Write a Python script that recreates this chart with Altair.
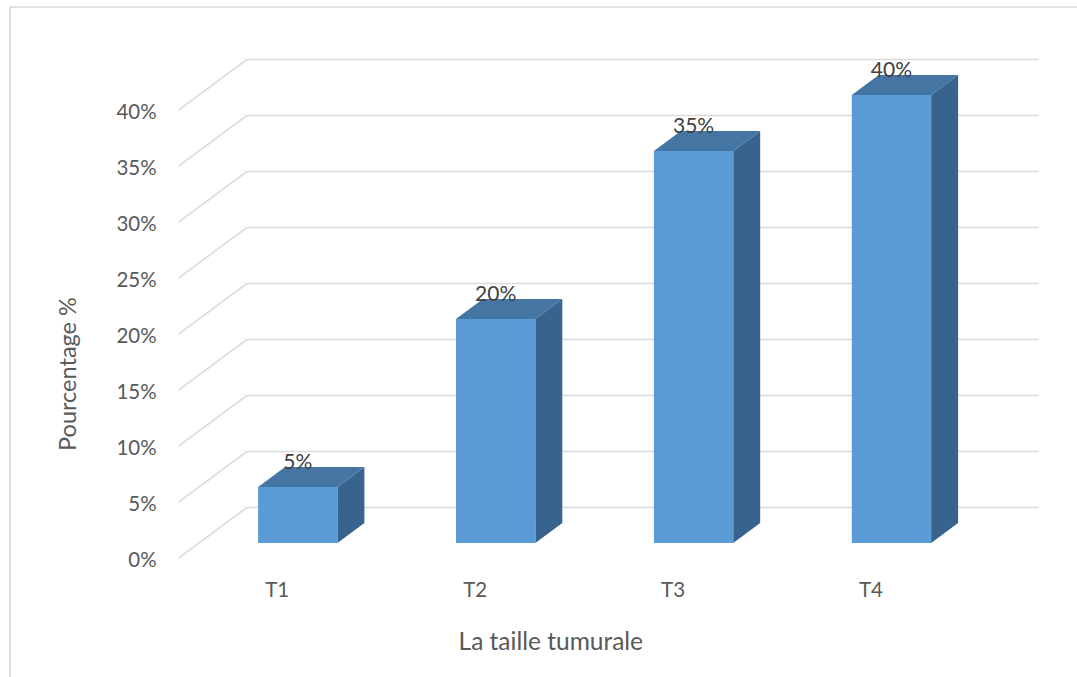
import altair as alt
import pandas as pd

# ---- data ----
categories = ["T1", "T2", "T3", "T4"]
values = [5, 20, 35, 40]
value_labels = ["5%", "20%", "35%", "40%"]
y_ticks = [0, 5, 10, 15, 20, 25, 30, 35, 40]
y_tick_labels = ["0%", "5%", "10%", "15%", "20%", "25%", "30%", "35%", "40%"]
x_title = "La taille tumurale"
y_title = "Pourcentage %"

# ---- layout (pixels) ----
W, H = 1067, 670          # frame size inside the padding
PX_U = 197.9              # pixels per category step
PX_P = 11.2               # pixels per percent
X0 = 168.3                # left edge of the category band on the front plane
Y0 = 551.3                # 0% on the front plane
DEPTH_X = 0.3456          # oblique depth, in category units
DEPTH_Y = 4.527           # oblique depth, in percent units
BAR_W = 0.401             # bar width, in category units
BAR_Z0 = 0.30             # bar front position along the depth (0..1)
BAR_ZD = 0.394            # bar depth (0..1)

FONT = "Lato"
GRID = "#D9D9D9"
FRONT = "#5B9BD5"
TOP = "#4575A3"
SIDE = "#38638D"

x_scale = alt.Scale(domain=[-0.5 - X0 / PX_U, -0.5 + (W - X0) / PX_U], nice=False, zero=False)
y_scale = alt.Scale(domain=[(Y0 - H) / PX_P, Y0 / PX_P], nice=False, zero=False)


def X(field):
    return alt.X(field, type="quantitative", scale=x_scale, axis=None)


def Y(field):
    return alt.Y(field, type="quantitative", scale=y_scale, axis=None)


# ---- bar geometry built from the values ----
sx0, sy0 = BAR_Z0 * DEPTH_X, BAR_Z0 * DEPTH_Y
sxd, syd = BAR_ZD * DEPTH_X, BAR_ZD * DEPTH_Y

front_rows, side_rows, top_rows, label_rows = [], [], [], []
for i, (cat, v, lab) in enumerate(zip(categories, values, value_labels)):
    xl = i - BAR_W / 2 + sx0
    xr = i + BAR_W / 2 + sx0
    yb = sy0
    yt = v + sy0
    front_rows.append({"cat": cat, "xl": xl, "xr": xr, "yb": yb, "yt": yt})
    side_rows += [
        {"cat": cat, "x": xr, "y": yb, "y2": yt},
        {"cat": cat, "x": xr + sxd, "y": yb + syd, "y2": yt + syd},
    ]
    top_rows += [
        {"cat": cat, "y": yt, "x": xl, "x2": xr},
        {"cat": cat, "y": yt + syd, "x": xl + sxd, "x2": xr + sxd},
    ]
    label_rows.append({"cat": cat, "x": i + sx0, "y": yt, "label": lab})

front_df = pd.DataFrame(front_rows)
side_df = pd.DataFrame(side_rows)
top_df = pd.DataFrame(top_rows)
label_df = pd.DataFrame(label_rows)

# ---- walls: back-wall lines and left-wall diagonals ----
grid_df = pd.DataFrame({"t": y_ticks, "label": y_tick_labels})
grid_df["xa"] = -0.5
grid_df["xb"] = -0.5 + DEPTH_X
grid_df["xc"] = len(categories) - 0.5 + DEPTH_X
grid_df["yb"] = grid_df["t"] + DEPTH_Y

back_lines = alt.Chart(grid_df).mark_rule(color=GRID, strokeWidth=1.5).encode(
    x=X("xb"), x2="xc", y=Y("yb"), y2="yb"
)
side_lines = alt.Chart(grid_df).mark_rule(color=GRID, strokeWidth=1.5).encode(
    x=X("xa"), x2="xb", y=Y("t"), y2="yb"
)
tick_text = alt.Chart(grid_df).mark_text(
    align="right", baseline="alphabetic", dx=-21.6, dy=9, font=FONT, fontSize=20.5, color="#595959"
).encode(x=X("xa"), y=Y("t"), text="label:N")

cat_df = pd.DataFrame({"cat": categories, "i": list(range(len(categories))), "zero": 0})
cat_text = alt.Chart(cat_df).mark_text(
    align="center", baseline="alphabetic", dy=38.4, font=FONT, fontSize=20.5, color="#595959"
).encode(x=X("i"), y=Y("zero"), text="cat:N")

# ---- bars ----
side_faces = alt.Chart(side_df).mark_area(orient="vertical", color=SIDE).encode(
    x=X("x"), y=Y("y"), y2="y2", detail="cat:N"
)
top_faces = alt.Chart(top_df).mark_area(orient="horizontal", color=TOP).encode(
    y=Y("y"), x=X("x"), x2="x2", detail="cat:N"
)
front_faces = alt.Chart(front_df).mark_rect(color=FRONT).encode(
    x=X("xl"), x2="xr", y=Y("yb"), y2="yt"
)
value_text = alt.Chart(label_df).mark_text(
    align="center", baseline="alphabetic", dy=-18, font=FONT, fontSize=21, color="#404040"
).encode(x=X("x"), y=Y("y"), text="label:N")

# ---- titles and frame ----
one = pd.DataFrame({"k": [0]})
x_title_mark = alt.Chart(one).mark_text(
    text=x_title, align="center", baseline="alphabetic", font=FONT, fontSize=24.5, color="#595959"
).encode(x=alt.value(540.8), y=alt.value(643))
y_title_mark = alt.Chart(one).mark_text(
    text=y_title, align="center", baseline="alphabetic", angle=270, font=FONT, fontSize=23.5, color="#595959"
).encode(x=alt.value(66), y=alt.value(367))
frame = alt.Chart(one).mark_rect(fillOpacity=0, stroke=GRID, strokeWidth=1.6).encode(
    x=alt.value(0), x2=alt.value(W + 20), y=alt.value(0), y2=alt.value(H + 20)
)

chart = alt.layer(
    frame, back_lines, side_lines, tick_text, cat_text,
    side_faces, top_faces, front_faces, value_text,
    x_title_mark, y_title_mark,
).properties(
    width=W, height=H, autosize=alt.AutoSizeParams(type="none"),
    padding={"left": 10, "top": 7, "right": 0, "bottom": 0},
    background="white",
).configure_view(stroke=None)

chart.save("out.html", embed_options={"renderer": "svg", "actions": False})
